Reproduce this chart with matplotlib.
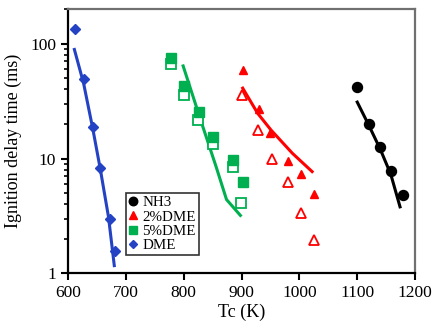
import matplotlib
matplotlib.use("Agg")
import matplotlib.pyplot as plt
from matplotlib.ticker import FixedLocator, NullFormatter, LogLocator

plt.rcParams['font.family'] = ['Liberation Serif', 'DejaVu Serif']

# NH3
nh3_x = [1100, 1121, 1139, 1158, 1179]
nh3_y = [41.6, 20, 12.5, 7.8, 4.8]
nh3_lx = [1100, 1120, 1140, 1158, 1174]
nh3_ly = [31, 19.5, 12, 7.3, 3.8]

# 2%DME
d2_fx = [902, 930, 950, 980, 1003, 1025]
d2_fy = [59, 27, 16.6, 9.6, 7.3, 4.9]
d2_ox = [901, 928, 952, 980, 1002, 1025]
d2_oy = [36, 17.7, 10, 6.3, 3.34, 1.96]
d2_lx = [902, 928, 951, 988, 1022]
d2_ly = [41, 24.7, 17.7, 11.1, 7.7]

# 5%DME
d5_fx = [778, 801, 827, 851, 886, 902]
d5_fy = [75, 43, 25.4, 15.5, 9.8, 6.2]
d5_ox = [778, 801, 825, 851, 886, 899]
d5_oy = [66, 36, 21.6, 13.3, 8.5, 4.1]
d5_lx = [799, 833, 856, 874, 898]
d5_ly = [64, 19, 8.5, 4.4, 3.2]

# DME
dme_x = [612, 628, 644, 656, 673, 681]
dme_y = [133, 49, 18.7, 8.3, 2.98, 1.58]
dme_lx = [611, 627, 643, 656, 670, 680]
dme_ly = [89, 45, 18, 8, 3.1, 1.17]

xticks = [600, 700, 800, 900, 1000, 1100, 1200]
yticks = [1, 10, 100]

BLACK = '#000000'
RED = '#FF0000'
GREEN = '#00B050'
BLUE = '#2342C4'

fig = plt.figure(figsize=(4.36, 3.24), dpi=100)
ax = fig.add_axes([0.156, 0.156, 0.796, 0.816])

ax.plot(nh3_lx, nh3_ly, color=BLACK, lw=2.2)
ax.plot(nh3_x, nh3_y, 'o', color=BLACK, ms=7.2, label='NH3', zorder=3)

ax.plot(d2_lx, d2_ly, color=RED, lw=2.2)
ax.plot(d2_fx, d2_fy, '^', color=RED, ms=6.2, label='2%DME', zorder=3)
ax.plot(d2_ox, d2_oy, '^', mfc='white', mec=RED, mew=1.3, ms=6.8, ls='none', zorder=3)

ax.plot(d5_lx, d5_ly, color=GREEN, lw=2.2)
ax.plot(d5_ox, d5_oy, 's', mfc='white', mec=GREEN, mew=1.3, ms=6.8, ls='none', zorder=3)
ax.plot(d5_fx, d5_fy, 's', color=GREEN, ms=7.2, label='5%DME', zorder=4)

ax.plot(dme_lx, dme_ly, color=BLUE, lw=2.2)
ax.plot(dme_x, dme_y, 'D', color=BLUE, ms=4.8, label='DME', zorder=3)

ax.set_yscale('log')
ax.set_xlim(600, 1200)
ax.set_ylim(1, 200)
ax.set_xticks(xticks)
ax.set_xticklabels([str(t) for t in xticks])
ax.yaxis.set_major_locator(FixedLocator(yticks))
ax.set_yticklabels([str(t) for t in yticks])
ax.yaxis.set_minor_locator(LogLocator(base=10, subs=range(2, 10)))
ax.yaxis.set_minor_formatter(NullFormatter())
ax.xaxis.set_minor_locator(FixedLocator([]))

ax.tick_params(axis='both', which='major', labelsize=12.5, direction='out', length=5, width=1.5, color='black')
ax.tick_params(axis='y', which='minor', direction='out', length=3, width=1.2)
for s in ['left', 'bottom']:
    ax.spines[s].set_linewidth(1.6)
    ax.spines[s].set_color('black')
for s in ['top', 'right']:
    ax.spines[s].set_linewidth(1.6)
    ax.spines[s].set_color('#707070')

ax.set_xlabel('Tc (K)', fontsize=13, labelpad=2)
ax.set_ylabel('Ignition delay time (ms)', fontsize=13, labelpad=6)

leg = ax.legend(loc='upper left', bbox_to_anchor=(0.167, 0.305), fontsize=10.8,
                frameon=True, fancybox=False, edgecolor='black',
                handlelength=0.6, handletextpad=0.3, borderpad=0.2,
                labelspacing=0.05, borderaxespad=0, markerscale=0.85)
leg.get_frame().set_linewidth(1.2)

fig.savefig('out.png', dpi=100)
